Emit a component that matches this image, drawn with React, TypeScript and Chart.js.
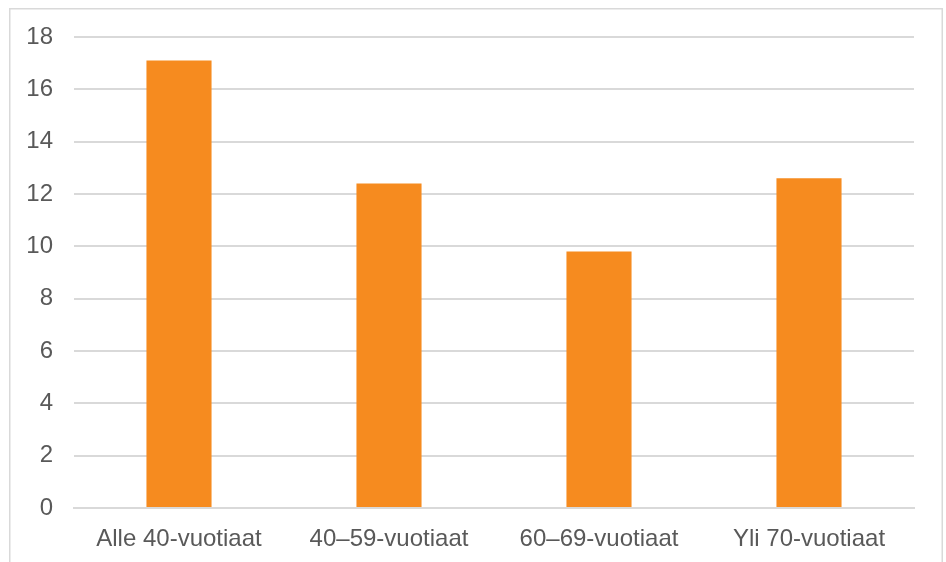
import React, { useEffect, useRef } from "react";
import { Chart, registerables } from "chart.js";

Chart.register(...registerables);

const categories = ["Alle 40-vuotiaat", "40–59-vuotiaat", "60–69-vuotiaat", "Yli 70-vuotiaat"];
const values = [17.1, 12.4, 9.8, 12.6];
const yMin = 0;
const yMax = 18;
const yStep = 2;

const frame = {
  id: "frame",
  beforeDraw(chart: any) {
    const ctx = chart.ctx;
    ctx.save();
    ctx.strokeStyle = "#D9D9D9";
    ctx.lineWidth = 1.5;
    ctx.beginPath();
    ctx.moveTo(9.75, 600);
    ctx.lineTo(9.75, 8.75);
    ctx.lineTo(942.25, 8.75);
    ctx.lineTo(942.25, 600);
    ctx.stroke();
    ctx.restore();
  },
};

export default function App() {
  const ref = useRef<HTMLCanvasElement | null>(null);
  useEffect(() => {
    document.body.style.margin = "0";
    const chart = new Chart(ref.current as HTMLCanvasElement, {
      type: "bar",
      data: {
        labels: categories,
        datasets: [
          {
            data: values,
            backgroundColor: "#F68B1F",
            borderWidth: 0,
            categoryPercentage: 1,
            barPercentage: 0.31,
          },
        ],
      },
      options: {
        animation: false,
        responsive: false,
        maintainAspectRatio: false,
        layout: { padding: { left: 0, right: 32, top: 37, bottom: 0 } },
        plugins: { legend: { display: false }, tooltip: { enabled: false } },
        scales: {
          x: {
            grid: { display: false, drawTicks: false },
            border: { display: true, color: "#D9D9D9", width: 2 },
            ticks: {
              color: "#595959",
              font: { family: "'Liberation Sans', Arial, sans-serif", size: 24 },
              padding: 17,
              maxRotation: 0,
              autoSkip: false,
            },
            afterFit(scale: any) {
              scale.height = 54;
            },
          },
          y: {
            min: yMin,
            max: yMax,
            grid: { color: "#D9D9D9", lineWidth: 2, drawTicks: false },
            border: { display: false },
            ticks: {
              stepSize: yStep,
              color: "#595959",
              font: { family: "'Liberation Sans', Arial, sans-serif", size: 24 },
              padding: 21,
            },
            afterFit(scale: any) {
              scale.width = 74;
            },
          },
        },
      },
      plugins: [frame],
    });
    return () => chart.destroy();
  }, []);
  return (
    <div style={{ position: "fixed", left: 0, top: 0, width: 946, height: 562, background: "#fff" }}>
      <canvas ref={ref} width={946} height={562} style={{ display: "block" }} />
    </div>
  );
}
